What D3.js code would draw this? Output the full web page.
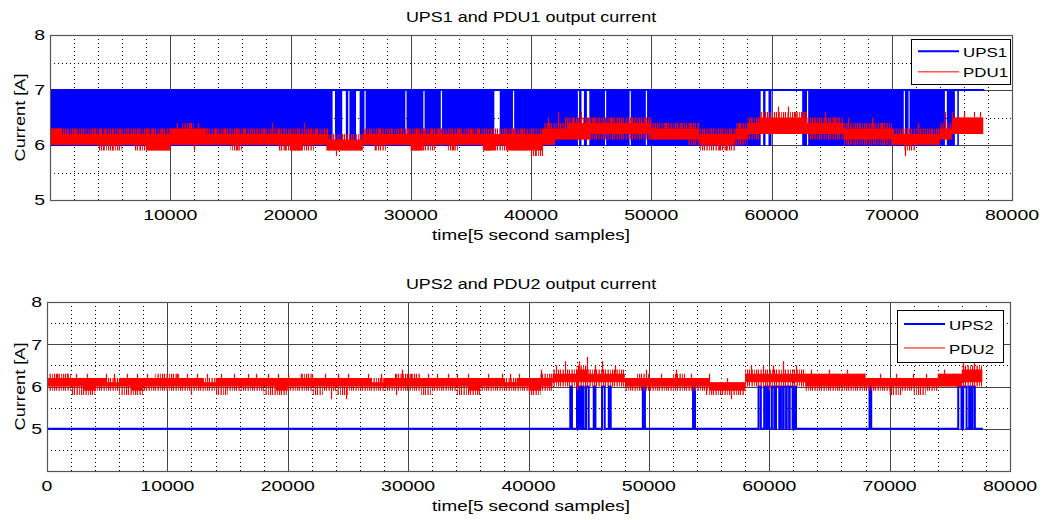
<!DOCTYPE html>
<html>
<head>
<meta charset="utf-8">
<script src="https://cdn.jsdelivr.net/npm/d3@7"></script>
<style>
body { margin: 0; background: #fff; }
text { font-family: "Liberation Sans", Arial, sans-serif; fill: #000; }
</style>
</head>
<body>
<svg id="chart" width="1044" height="520">
  <defs>
    <pattern id="fringe" width="9" height="10" patternUnits="userSpaceOnUse">
      <rect x="0" y="0" width="1.2" height="10" fill="#ff0000"></rect>
      <rect x="2" y="0" width="1" height="10" fill="#ff0000"></rect>
      <rect x="4.5" y="0" width="1.3" height="10" fill="#ff0000"></rect>
      <rect x="7" y="0" width="0.8" height="10" fill="#ff0000"></rect>
    </pattern>
  </defs>
</svg>
<script>
// ---- data ----
const xTicksTop = [10000, 20000, 30000, 40000, 50000, 60000, 70000, 80000];
const xTicksBottom = [0, 10000, 20000, 30000, 40000, 50000, 60000, 70000, 80000];
const yTicksTop = [5, 6, 7, 8];
const yTicksBottom = [5, 6, 7, 8];

// UPS1 toggles 6 <-> 7 all the time, except in these stretches where it sits at 7
const ups1Steady = [[23500, 23700], [24300, 24600], [24800, 24900], [25450, 25750], [26150, 26250],
  [29550, 29650], [31050, 31150], [32500, 32600], [36950, 37400], [38500, 38600], [43900, 44000],
  [44200, 44400], [44650, 44850], [46150, 46250], [48200, 48300], [49550, 49650], [59100, 59300],
  [59500, 59750], [60000, 62550], [62950, 63050], [71000, 71100], [71400, 71480], [74420, 74580],
  [75250, 75450], [75580, 77700]];
const ups1End = 77700;

// UPS2 sits at 5 and jumps to 6 in these stretches
const ups2Pulses = [[43470, 43610], [44030, 44180], [44250, 44400], [44450, 44580], [44780, 45000],
  [45420, 45560], [46110, 46330], [46670, 46830], [49500, 49670], [53670, 53830], [59110, 59300],
  [59580, 59750], [59850, 60000], [60220, 60420], [60560, 60830], [60970, 61150], [61200, 61400],
  [61450, 61650], [61700, 61940], [62080, 62220], [68330, 68470], [75700, 75970], [76110, 76390],
  [76610, 76720], [76890, 77080]];
const ups2End = 77750;

// PDU noise band per 1000 samples:
// top / bottom = sparse edge of the noise, hi / lo = the dense core
const pdu1Top = [6.3, 6.3, 6.3, 6.3, 6.3, 6.3, 6.3, 6.3, 6.3, 6.3, 6.3, 6.4, 6.3, 6.3, 6.3, 6.3, 6.3, 6.3, 6.3, 6.3,
  6.3, 6.3, 6.3, 6.2, 6.2, 6.2, 6.3, 6.3, 6.3, 6.3, 6.3, 6.3, 6.3, 6.3, 6.3, 6.3, 6.3, 6.3, 6.3, 6.3,
  6.3, 6.4, 6.4, 6.5, 6.5, 6.5, 6.5, 6.5, 6.5, 6.5, 6.4, 6.4, 6.4, 6.4, 6.3, 6.3, 6.3, 6.4, 6.5, 6.6,
  6.6, 6.6, 6.6, 6.5, 6.5, 6.5, 6.4, 6.4, 6.4, 6.4, 6.3, 6.3, 6.3, 6.3, 6.4, 6.5, 6.5, 6.5];
const pdu1Hi = [6.3, 6.2, 6.2, 6.2, 6.2, 6.2, 6.2, 6.2, 6.2, 6.2, 6.3, 6.3, 6.3, 6.2, 6.2, 6.2, 6.2, 6.2, 6.2, 6.2,
  6.2, 6.2, 6.2, 6.1, 6.1, 6.1, 6.2, 6.2, 6.2, 6.2, 6.2, 6.2, 6.2, 6.2, 6.2, 6.2, 6.2, 6.2, 6.2, 6.2,
  6.2, 6.3, 6.3, 6.4, 6.4, 6.4, 6.4, 6.4, 6.4, 6.4, 6.3, 6.3, 6.3, 6.3, 6.2, 6.2, 6.2, 6.3, 6.4, 6.5,
  6.5, 6.5, 6.5, 6.4, 6.4, 6.4, 6.3, 6.3, 6.3, 6.3, 6.2, 6.2, 6.2, 6.2, 6.3, 6.5, 6.5, 6.5];
const pdu1Lo = [6.0, 6.0, 6.0, 6.0, 6.0, 6.0, 6.0, 6.0, 5.9, 5.9, 6.0, 6.0, 6.0, 6.0, 6.0, 6.0, 6.0, 6.0, 6.0, 6.0,
  5.9, 6.0, 6.0, 5.9, 5.9, 5.9, 6.0, 6.0, 6.0, 6.0, 5.9, 6.0, 6.0, 6.0, 6.0, 6.0, 5.9, 6.0, 5.9, 5.9,
  5.9, 6.0, 6.1, 6.1, 6.1, 6.2, 6.2, 6.2, 6.2, 6.2, 6.1, 6.1, 6.1, 6.1, 6.0, 6.0, 6.0, 6.1, 6.2, 6.2,
  6.2, 6.2, 6.2, 6.2, 6.2, 6.2, 6.1, 6.1, 6.1, 6.1, 6.0, 6.0, 6.0, 6.0, 6.1, 6.2, 6.2, 6.2];
const pdu1Bottom = [6.0, 6.0, 6.0, 6.0, 5.9, 5.9, 6.0, 5.9, 5.9, 5.9, 6.0, 6.0, 6.0, 6.0, 6.0, 5.9, 6.0, 6.0, 6.0, 5.9,
  5.9, 5.9, 6.0, 5.9, 5.9, 5.9, 6.0, 5.9, 6.0, 6.0, 5.9, 5.9, 6.0, 5.9, 6.0, 6.0, 5.9, 5.9, 5.9, 5.9,
  5.8, 6.0, 6.1, 6.1, 6.1, 6.1, 6.1, 6.1, 6.1, 6.1, 6.1, 6.1, 6.1, 6.0, 5.9, 5.9, 5.9, 6.0, 6.1, 6.2,
  6.2, 6.2, 6.2, 6.1, 6.1, 6.1, 6.0, 6.0, 6.0, 6.0, 6.0, 5.9, 6.0, 6.0, 6.1, 6.2, 6.2, 6.2];
const pdu1End = 77600;

const pdu2Top = [6.3, 6.3, 6.2, 6.2, 6.2, 6.2, 6.2, 6.2, 6.2, 6.3, 6.3, 6.2, 6.2, 6.2, 6.2, 6.2, 6.2, 6.2, 6.2, 6.2,
  6.2, 6.3, 6.2, 6.2, 6.2, 6.2, 6.2, 6.2, 6.2, 6.3, 6.3, 6.2, 6.2, 6.2, 6.2, 6.2, 6.2, 6.2, 6.2, 6.2,
  6.2, 6.3, 6.4, 6.4, 6.5, 6.4, 6.4, 6.4, 6.2, 6.3, 6.2, 6.2, 6.3, 6.2, 6.2, 6.1, 6.1, 6.1, 6.4, 6.4,
  6.4, 6.4, 6.4, 6.3, 6.3, 6.3, 6.3, 6.3, 6.2, 6.2, 6.2, 6.2, 6.2, 6.2, 6.3, 6.3, 6.5, 6.5];
const pdu2Hi = [6.2, 6.2, 6.2, 6.2, 6.2, 6.1, 6.2, 6.2, 6.2, 6.2, 6.2, 6.2, 6.2, 6.1, 6.2, 6.2, 6.2, 6.2, 6.2, 6.2,
  6.2, 6.2, 6.2, 6.2, 6.2, 6.2, 6.2, 6.1, 6.2, 6.2, 6.2, 6.2, 6.2, 6.2, 6.2, 6.2, 6.2, 6.2, 6.1, 6.2,
  6.2, 6.2, 6.3, 6.3, 6.4, 6.3, 6.3, 6.3, 6.2, 6.2, 6.2, 6.2, 6.2, 6.2, 6.2, 6.1, 6.1, 6.1, 6.3, 6.3,
  6.3, 6.3, 6.3, 6.3, 6.3, 6.3, 6.3, 6.3, 6.2, 6.2, 6.2, 6.2, 6.2, 6.2, 6.3, 6.3, 6.4, 6.4];
const pdu2Lo = [6.0, 6.0, 6.0, 5.9, 6.0, 6.0, 6.0, 5.9, 6.0, 6.0, 6.0, 6.0, 6.0, 6.0, 6.0, 6.0, 6.0, 6.0, 6.0, 5.9,
  6.0, 6.0, 6.0, 6.0, 6.0, 6.0, 6.0, 6.0, 6.0, 6.0, 6.0, 6.0, 6.0, 6.0, 6.0, 5.9, 6.0, 6.0, 6.0, 6.0,
  5.9, 6.0, 6.1, 6.1, 6.1, 6.1, 6.1, 6.1, 6.0, 6.0, 6.0, 6.0, 6.0, 6.0, 6.0, 5.9, 5.9, 5.9, 6.1, 6.1,
  6.1, 6.1, 6.1, 6.0, 6.0, 6.0, 6.0, 6.0, 6.0, 6.0, 6.0, 6.0, 6.0, 6.0, 6.0, 6.0, 6.1, 6.1];
const pdu2Bottom = [5.9, 5.9, 5.8, 5.8, 5.9, 5.9, 5.8, 5.8, 5.9, 5.9, 5.9, 5.9, 5.9, 5.9, 5.8, 5.9, 5.9, 5.9, 5.8, 5.8,
  5.9, 5.9, 5.8, 5.9, 5.8, 5.9, 5.9, 5.9, 5.9, 5.9, 5.9, 5.8, 5.9, 5.9, 5.8, 5.8, 5.9, 5.9, 5.9, 5.9,
  5.8, 5.9, 6.0, 6.0, 6.0, 6.0, 6.0, 6.0, 5.9, 5.9, 5.9, 5.9, 5.9, 5.9, 5.9, 5.8, 5.8, 5.8, 6.0, 6.0,
  6.0, 6.0, 6.0, 5.9, 5.9, 5.9, 5.9, 5.9, 5.9, 5.9, 5.8, 5.9, 5.8, 5.9, 6.0, 6.0, 6.0, 6.0];
const pdu2End = 77700;

// isolated spikes out of the band [sample, value]
const pdu1Spikes = [[700, 6.3], [1390, 6.3], [2100, 6.3], [2780, 6.3], [3700, 6.3], [4170, 6.3], [4600, 6.3],
  [5140, 6.3], [5830, 6.3], [6300, 6.3], [6940, 6.3], [7300, 6.3], [8060, 6.3], [8470, 6.3], [9200, 6.3],
  [9860, 6.3], [10560, 6.4], [11670, 6.4], [12300, 6.4], [13060, 6.3], [13700, 6.3], [14440, 6.3],
  [15000, 6.3], [15560, 6.3], [16100, 6.3], [16670, 6.3], [17200, 6.3], [17780, 6.3], [18470, 6.4],
  [19000, 6.3], [19440, 6.3], [20500, 6.3], [21110, 6.4], [21600, 6.3], [22080, 6.3], [23060, 6.3],
  [24440, 6.2], [25200, 6.2], [26670, 6.3], [27400, 6.3], [28330, 6.3], [29170, 6.3], [29800, 6.3],
  [30560, 6.3], [31100, 6.3], [31670, 6.3], [32300, 6.3], [33060, 6.3], [33890, 6.3], [34600, 6.3],
  [35000, 6.3], [35560, 6.3], [36100, 6.3], [36670, 6.3], [37780, 6.3], [38400, 6.3], [39170, 6.3],
  [40200, 6.3], [41390, 6.5], [42220, 6.6], [42800, 6.5], [43470, 6.5], [44170, 6.6], [44700, 6.5],
  [45140, 6.5], [45970, 6.5], [46670, 6.5], [47300, 6.5], [48330, 6.5], [49440, 6.5], [50300, 6.4],
  [51110, 6.4], [52500, 6.4], [53200, 6.4], [53890, 6.4], [55000, 6.3], [55560, 6.3], [56670, 6.3],
  [57300, 6.4], [58330, 6.5], [59300, 6.6], [60560, 6.7], [61390, 6.7], [61940, 6.6], [62700, 6.6],
  [63600, 6.5], [64440, 6.6], [65200, 6.5], [66390, 6.5], [67300, 6.4], [68330, 6.5], [69100, 6.4],
  [70000, 6.3], [71300, 6.3], [72220, 6.4], [73300, 6.3], [74440, 6.6], [75000, 6.6], [75970, 6.6],
  [76800, 6.6], [77300, 6.6],
  [4440, 5.9], [5140, 5.9], [7500, 5.9], [12000, 5.9], [15560, 5.9], [19170, 5.9], [19580, 5.9],
  [23750, 5.8], [27000, 5.9], [33500, 5.9], [40300, 5.8], [55600, 5.9], [56200, 5.9], [71100, 5.8]];

const pdu2Spikes = [[830, 6.3], [1670, 6.3], [2400, 6.3], [3330, 6.3], [4860, 6.3], [5600, 6.3], [6670, 6.3],
  [7500, 6.3], [8330, 6.3], [9720, 6.3], [10830, 6.3], [11600, 6.3], [12500, 6.3], [13300, 6.3],
  [14440, 6.3], [15500, 6.3], [16670, 6.3], [17400, 6.3], [18330, 6.3], [19200, 6.3], [20000, 6.3],
  [21110, 6.3], [22000, 6.3], [23060, 6.3], [24200, 6.3], [25000, 6.3], [26670, 6.3], [27780, 6.3],
  [28890, 6.3], [29500, 6.4], [30280, 6.3], [31670, 6.3], [32400, 6.3], [33330, 6.3], [34100, 6.3],
  [35000, 6.3], [36670, 6.3], [37780, 6.3], [38500, 6.3], [39170, 6.3], [41000, 6.4], [42300, 6.5],
  [43060, 6.6], [44170, 6.6], [44860, 6.7], [45500, 6.5], [46110, 6.6], [47220, 6.5], [49720, 6.4],
  [51000, 6.3], [52220, 6.4], [53500, 6.3], [55000, 6.3], [56500, 6.2], [58500, 6.5], [59440, 6.5],
  [60300, 6.5], [61110, 6.6], [62220, 6.5], [63500, 6.4], [65000, 6.4], [66500, 6.4], [69170, 6.3],
  [70500, 6.3], [71940, 6.3], [73000, 6.3], [74500, 6.4], [76110, 6.6], [77000, 6.6],
  [12000, 5.8], [23600, 5.7], [24860, 5.7], [29000, 5.8], [44000, 5.9], [54720, 5.8], [56800, 5.7],
  [60000, 5.9]];

// ---- drawing ----
const svg = d3.select('#chart');
const wide = 1.3; // the original font is drawn wider than Arial

function stretchText(g, x, y, str, anchor, size, rotate) {
  g.append('text')
    .attr('transform', 'translate(' + x + ',' + y + ')' + (rotate ? ' rotate(-90)' : '') + ' scale(' + wide + ',1)')
    .attr('text-anchor', anchor)
    .attr('dy', '0.35em')
    .attr('font-size', size)
    .text(str);
}

// stretches of UPS toggling are what is left between the steady parts
function togglingParts(steady, end) {
  let parts = [];
  let start = 0;
  steady.forEach(function (s) {
    if (s[0] > start) parts.push([start, s[0]]);
    start = s[1];
  });
  if (start < end) parts.push([start, end]);
  return parts;
}

function bandRows(top, hi, lo, bottom, end) {
  let rows = hi.map((h, i) => ({x: i * 1000, top: top[i], hi: h, lo: lo[i], bottom: bottom[i]}));
  let last = rows[rows.length - 1];
  rows.push({x: end, top: last.top, hi: last.hi, lo: last.lo, bottom: last.bottom});
  return rows;
}

function drawPanel(p, idx) {
  const x = d3.scaleLinear().domain([0, 80000]).range([p.left, p.right]);
  const y = d3.scaleLinear().domain(p.yDomain).range([p.bottom, p.top]);
  const g = svg.append('g');
  const crisp = v => Math.round(v) + 0.5;

  g.append('clipPath').attr('id', 'clip' + idx)
    .append('rect').attr('x', p.left).attr('y', p.top)
    .attr('width', p.right - p.left).attr('height', p.bottom - p.top);

  // grid
  const xMinor = d3.range(2000, 80000, 2000).filter(v => v % 10000 !== 0);
  const yMinor = d3.range(p.yDomain[0] + 0.5, p.yDomain[1], 1);
  const xMajor = d3.range(10000, 80000, 10000);
  const yMajor = d3.range(p.yDomain[0] + 1, p.yDomain[1], 1);

  const grid = g.append('g');
  grid.selectAll('.xminor').data(xMinor).join('line')
    .attr('x1', d => crisp(x(d))).attr('x2', d => crisp(x(d)))
    .attr('y1', p.top).attr('y2', p.bottom)
    .attr('stroke', '#000').attr('stroke-dasharray', '1,3');
  grid.selectAll('.yminor').data(yMinor).join('line')
    .attr('y1', d => crisp(y(d))).attr('y2', d => crisp(y(d)))
    .attr('x1', p.left).attr('x2', p.right)
    .attr('stroke', '#000').attr('stroke-dasharray', '1,3');
  grid.selectAll('.xmajor').data(xMajor).join('line')
    .attr('x1', d => crisp(x(d))).attr('x2', d => crisp(x(d)))
    .attr('y1', p.top).attr('y2', p.bottom)
    .attr('stroke', '#444');
  grid.selectAll('.ymajor').data(yMajor).join('line')
    .attr('y1', d => crisp(y(d))).attr('y2', d => crisp(y(d)))
    .attr('x1', p.left).attr('x2', p.right)
    .attr('stroke', '#444');

  const plot = g.append('g').attr('clip-path', 'url(#clip' + idx + ')');

  // UPS (blue)
  if (p.upsSteady) {
    const parts = togglingParts(p.upsSteady, p.upsEnd);
    plot.selectAll('rect.ups').data(parts).join('rect')
      .attr('x', d => x(d[0]))
      .attr('width', d => Math.max(0.6, x(d[1]) - x(d[0])))
      .attr('y', y(7) - 1)
      .attr('height', y(6) - y(7) + 2)
      .attr('fill', '#0000ff');
    plot.append('line')
      .attr('x1', x(0)).attr('x2', x(p.upsEnd))
      .attr('y1', y(7)).attr('y2', y(7))
      .attr('stroke', '#0000ff').attr('stroke-width', 2);
  } else {
    let pts = [[0, 5]];
    p.upsPulses.forEach(function (q) {
      pts.push([q[0], 5], [q[0], 6], [q[1], 6], [q[1], 5]);
    });
    pts.push([p.upsEnd, 5]);
    plot.append('path')
      .attr('d', d3.line().x(d => x(d[0])).y(d => y(d[1]))(pts))
      .attr('fill', 'none').attr('stroke', '#0000ff').attr('stroke-width', 2);
  }

  // PDU (red): sparse fringe, dense core, then single spikes
  const rows = bandRows(p.pduTop, p.pduHi, p.pduLo, p.pduBottom, p.pduEnd);
  const fringe = d3.area().curve(d3.curveStepAfter)
    .x(d => x(d.x)).y0(d => y(d.bottom)).y1(d => y(d.top));
  const core = d3.area().curve(d3.curveStepAfter)
    .x(d => x(d.x)).y0(d => y(d.lo)).y1(d => y(d.hi));
  plot.append('path').attr('d', fringe(rows)).attr('fill', 'url(#fringe)');
  plot.append('path').attr('d', core(rows)).attr('fill', '#ff0000');

  plot.selectAll('line.spike').data(p.pduSpikes).join('line')
    .attr('x1', d => crisp(x(d[0]))).attr('x2', d => crisp(x(d[0])))
    .attr('y1', function (d) {
      const r = rows[Math.min(Math.floor(d[0] / 1000), rows.length - 1)];
      return d[1] > r.hi ? y(r.hi) : y(r.lo);
    })
    .attr('y2', d => y(d[1]))
    .attr('stroke', '#ff0000').attr('stroke-width', 1.2);

  // box
  g.append('rect')
    .attr('x', p.left + 0.5).attr('y', p.top + 0.5)
    .attr('width', p.right - p.left).attr('height', p.bottom - p.top)
    .attr('fill', 'none').attr('stroke', '#555').attr('stroke-width', 1.2);

  // tick labels
  p.xTicks.forEach(t => stretchText(g, x(t), p.bottom + 15, String(t), 'middle', 15));
  p.yTicks.forEach(t => stretchText(g, p.left - 5, y(t), String(t), 'end', 15));

  // titles
  stretchText(g, 531, p.top - 18, p.title, 'middle', 13.8);
  stretchText(g, 531, p.bottom + 35, 'time[5 second samples]', 'middle', 14.5);
  stretchText(g, 20, (p.top + p.bottom) / 2, 'Current [A]', 'middle', 14, true);

  // legend
  const L = p.legend;
  const lg = g.append('g');
  lg.append('rect').attr('x', L.x + 0.5).attr('y', L.y + 0.5).attr('width', L.w).attr('height', L.h)
    .attr('fill', '#fff').attr('stroke', '#000');
  const entries = [
    {name: p.names[0], color: '#0000ff', width: 2},
    {name: p.names[1], color: '#ff0000', width: 1}
  ];
  entries.forEach(function (e, i) {
    const yy = L.y + L.h * (i === 0 ? 0.27 : 0.73);
    lg.append('line').attr('x1', L.x + 7).attr('x2', L.x + 48)
      .attr('y1', yy).attr('y2', yy)
      .attr('stroke', e.color).attr('stroke-width', e.width);
    stretchText(lg, L.x + 52, yy + 1, e.name, 'start', 13);
  });
}

drawPanel({
  left: 50, right: 1012, top: 35, bottom: 200, yDomain: [5, 8],
  xTicks: xTicksTop, yTicks: yTicksTop,
  title: 'UPS1 and PDU1 output current', names: ['UPS1', 'PDU1'],
  upsSteady: ups1Steady, upsEnd: ups1End,
  pduTop: pdu1Top, pduHi: pdu1Hi, pduLo: pdu1Lo, pduBottom: pdu1Bottom,
  pduEnd: pdu1End, pduSpikes: pdu1Spikes,
  legend: {x: 911, y: 39, w: 99, h: 45}
}, 1);

drawPanel({
  left: 47, right: 1010, top: 302, bottom: 471, yDomain: [4, 8],
  xTicks: xTicksBottom, yTicks: yTicksBottom,
  title: 'UPS2 and PDU2 output current', names: ['UPS2', 'PDU2'],
  upsPulses: ups2Pulses, upsEnd: ups2End,
  pduTop: pdu2Top, pduHi: pdu2Hi, pduLo: pdu2Lo, pduBottom: pdu2Bottom,
  pduEnd: pdu2End, pduSpikes: pdu2Spikes,
  legend: {x: 897, y: 310, w: 106, h: 52}
}, 2);
</script>
</body>
</html>
